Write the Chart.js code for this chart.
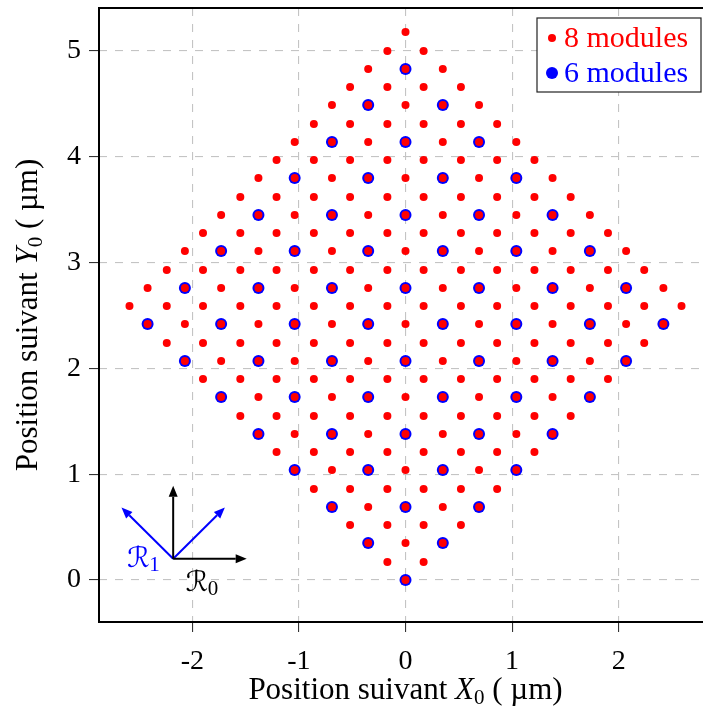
<!DOCTYPE html>
<html>
<head>
<meta charset="utf-8">
<script src="https://cdn.jsdelivr.net/npm/chart.js@4.4.1/dist/chart.umd.min.js"></script>
<style>
  html, body { margin: 0; padding: 0; background: #fff; overflow: hidden; }
  #lattice { display: block; }
</style>
</head>
<body>
<canvas id="lattice" width="718" height="711"></canvas>
<script>
// module positions, one row per Y0 value (µm)
const redRowY = [0.00, 0.17, 0.35, 0.52, 0.69, 0.86, 1.04, 1.21, 1.38, 1.55, 1.73, 1.90, 2.07, 2.24, 2.42,
  2.59, 2.76, 2.93, 3.11, 3.28, 3.45, 3.62, 3.80, 3.97, 4.14, 4.31, 4.49, 4.66, 4.83, 5.00, 5.18];
const redRowX = [
  [0],
  [-0.17, 0.17],
  [-0.35, 0, 0.35],
  [-0.52, -0.17, 0.17, 0.52],
  [-0.69, -0.35, 0, 0.35, 0.69],
  [-0.86, -0.52, -0.17, 0.17, 0.52, 0.86],
  [-1.04, -0.69, -0.35, 0, 0.35, 0.69, 1.04],
  [-1.21, -0.86, -0.52, -0.17, 0.17, 0.52, 0.86, 1.21],
  [-1.38, -1.04, -0.69, -0.35, 0, 0.35, 0.69, 1.04, 1.38],
  [-1.55, -1.21, -0.86, -0.52, -0.17, 0.17, 0.52, 0.86, 1.21, 1.55],
  [-1.73, -1.38, -1.04, -0.69, -0.35, 0, 0.35, 0.69, 1.04, 1.38, 1.73],
  [-1.90, -1.55, -1.21, -0.86, -0.52, -0.17, 0.17, 0.52, 0.86, 1.21, 1.55, 1.90],
  [-2.07, -1.73, -1.38, -1.04, -0.69, -0.35, 0, 0.35, 0.69, 1.04, 1.38, 1.73, 2.07],
  [-2.24, -1.90, -1.55, -1.21, -0.86, -0.52, -0.17, 0.17, 0.52, 0.86, 1.21, 1.55, 1.90, 2.24],
  [-2.42, -2.07, -1.73, -1.38, -1.04, -0.69, -0.35, 0, 0.35, 0.69, 1.04, 1.38, 1.73, 2.07, 2.42],
  [-2.59, -2.24, -1.90, -1.55, -1.21, -0.86, -0.52, -0.17, 0.17, 0.52, 0.86, 1.21, 1.55, 1.90, 2.24, 2.59],
  [-2.42, -2.07, -1.73, -1.38, -1.04, -0.69, -0.35, 0, 0.35, 0.69, 1.04, 1.38, 1.73, 2.07, 2.42],
  [-2.24, -1.90, -1.55, -1.21, -0.86, -0.52, -0.17, 0.17, 0.52, 0.86, 1.21, 1.55, 1.90, 2.24],
  [-2.07, -1.73, -1.38, -1.04, -0.69, -0.35, 0, 0.35, 0.69, 1.04, 1.38, 1.73, 2.07],
  [-1.90, -1.55, -1.21, -0.86, -0.52, -0.17, 0.17, 0.52, 0.86, 1.21, 1.55, 1.90],
  [-1.73, -1.38, -1.04, -0.69, -0.35, 0, 0.35, 0.69, 1.04, 1.38, 1.73],
  [-1.55, -1.21, -0.86, -0.52, -0.17, 0.17, 0.52, 0.86, 1.21, 1.55],
  [-1.38, -1.04, -0.69, -0.35, 0, 0.35, 0.69, 1.04, 1.38],
  [-1.21, -0.86, -0.52, -0.17, 0.17, 0.52, 0.86, 1.21],
  [-1.04, -0.69, -0.35, 0, 0.35, 0.69, 1.04],
  [-0.86, -0.52, -0.17, 0.17, 0.52, 0.86],
  [-0.69, -0.35, 0, 0.35, 0.69],
  [-0.52, -0.17, 0.17, 0.52],
  [-0.35, 0, 0.35],
  [-0.17, 0.17],
  [0]
];
const blueRowY = [0.00, 0.35, 0.69, 1.04, 1.38, 1.73, 2.07, 2.42, 2.76, 3.11, 3.45, 3.80, 4.14, 4.49, 4.83];
const blueRowX = [
  [0],
  [-0.35, 0.35],
  [-0.69, 0, 0.69],
  [-1.04, -0.35, 0.35, 1.04],
  [-1.38, -0.69, 0, 0.69, 1.38],
  [-1.73, -1.04, -0.35, 0.35, 1.04, 1.73],
  [-2.07, -1.38, -0.69, 0, 0.69, 1.38, 2.07],
  [-2.42, -1.73, -1.04, -0.35, 0.35, 1.04, 1.73, 2.42],
  [-2.07, -1.38, -0.69, 0, 0.69, 1.38, 2.07],
  [-1.73, -1.04, -0.35, 0.35, 1.04, 1.73],
  [-1.38, -0.69, 0, 0.69, 1.38],
  [-1.04, -0.35, 0.35, 1.04],
  [-0.69, 0, 0.69],
  [-0.35, 0.35],
  [0]
];
const seriesNames = ['8 modules', '6 modules'];
const xTicks = [-2, -1, 0, 1, 2];
const yTicks = [0, 1, 2, 3, 4, 5];

// frames R0 / R1 drawn in the lower left corner (data units)
const frameOrigin = { x: -2.18, y: 0.20 };
const r0Tips = [{ x: -1.49, y: 0.20 }, { x: -2.18, y: 0.89 }];
const r1Tips = [{ x: -2.665, y: 0.685 }, { x: -1.695, y: 0.685 }];

const serif = "'Liberation Serif', 'Times New Roman', serif";
const RED = '#ff0000';
const BLUE = '#0000ff';

function rowsToPoints(ys, xs) {
  const pts = [];
  ys.forEach((y, i) => xs[i].forEach(x => pts.push({ x: x, y: y })));
  return pts;
}

function drawRuns(ctx, runs, cx, baseY) {
  let total = 0;
  runs.forEach(r => { ctx.font = r.font; r.w = ctx.measureText(r.text).width; total += r.w; });
  let x = cx - total / 2;
  runs.forEach(r => {
    ctx.font = r.font;
    ctx.fillStyle = r.color || '#000';
    ctx.fillText(r.text, x, baseY + (r.dy || 0));
    x += r.w;
  });
}

function arrow(ctx, x0, y0, x1, y1, color) {
  const ang = Math.atan2(y1 - y0, x1 - x0);
  const head = 11, half = 4.5;
  const bx = x1 - head * Math.cos(ang), by = y1 - head * Math.sin(ang);
  ctx.strokeStyle = color;
  ctx.fillStyle = color;
  ctx.lineWidth = 2;
  ctx.beginPath();
  ctx.moveTo(x0, y0);
  ctx.lineTo(bx, by);
  ctx.stroke();
  ctx.beginPath();
  ctx.moveTo(x1, y1);
  ctx.lineTo(bx - half * Math.sin(ang), by + half * Math.cos(ang));
  ctx.lineTo(bx + half * Math.sin(ang), by - half * Math.cos(ang));
  ctx.closePath();
  ctx.fill();
}

const overlay = {
  id: 'overlay',
  afterDraw(chart) {
    const { ctx, chartArea: a } = chart;
    const sx = chart.scales.x, sy = chart.scales.y;
    ctx.save();
    ctx.textAlign = 'left';
    ctx.textBaseline = 'alphabetic';

    // plot frame
    ctx.strokeStyle = '#000';
    ctx.lineWidth = 2;
    ctx.strokeRect(a.left, a.top, a.right - a.left, a.bottom - a.top);

    // axis titles
    const big = '31px ' + serif, ital = 'italic 31px ' + serif, sub = '21px ' + serif;
    drawRuns(ctx, [
      { text: 'Position suivant ', font: big },
      { text: 'X', font: ital },
      { text: '0', font: sub, dy: 5 },
      { text: ' ( µm)', font: big }
    ], (a.left + a.right) / 2, 699);
    ctx.save();
    ctx.translate(37, (a.top + a.bottom) / 2);
    ctx.rotate(-Math.PI / 2);
    drawRuns(ctx, [
      { text: 'Position suivant ', font: big },
      { text: 'Y', font: ital },
      { text: '0', font: sub, dy: 5 },
      { text: ' ( µm)', font: big }
    ], 0, 0);
    ctx.restore();

    // reference frames
    const ox = sx.getPixelForValue(frameOrigin.x), oy = sy.getPixelForValue(frameOrigin.y);
    r1Tips.forEach(t => arrow(ctx, ox, oy, sx.getPixelForValue(t.x), sy.getPixelForValue(t.y), BLUE));
    r0Tips.forEach(t => arrow(ctx, ox, oy, sx.getPixelForValue(t.x), sy.getPixelForValue(t.y), '#000'));
    const script = "28px 'DejaVu Serif', 'DejaVu Sans', serif";
    drawRuns(ctx, [
      { text: 'ℛ', font: script, color: BLUE },
      { text: '1', font: sub, color: BLUE, dy: 4 }
    ], sx.getPixelForValue(-2.46), sy.getPixelForValue(0.12));
    drawRuns(ctx, [
      { text: 'ℛ', font: script },
      { text: '0', font: sub, dy: 4 }
    ], sx.getPixelForValue(-1.91), sy.getPixelForValue(-0.10));

    // legend box
    const lw = 164, lh = 74;
    const lx = a.right - 11 - lw, ly = a.top + 10;
    ctx.fillStyle = '#fff';
    ctx.fillRect(lx, ly, lw, lh);
    ctx.strokeStyle = '#222';
    ctx.lineWidth = 1.2;
    ctx.strokeRect(lx, ly, lw, lh);
    const items = [
      { name: seriesNames[0], color: RED, r: 4, y: ly + 20 },
      { name: seriesNames[1], color: BLUE, r: 6, y: ly + 55 }
    ];
    items.forEach(it => {
      ctx.fillStyle = it.color;
      ctx.beginPath();
      ctx.arc(lx + 15, it.y, it.r, 0, Math.PI * 2);
      ctx.fill();
      ctx.font = '30px ' + serif;
      ctx.textBaseline = 'middle';
      ctx.fillText(it.name, lx + 27, it.y + 1);
    });
    ctx.restore();
  }
};

new Chart(document.getElementById('lattice'), {
  type: 'scatter',
  data: {
    datasets: [
      {
        label: seriesNames[0],
        data: rowsToPoints(redRowY, redRowX),
        backgroundColor: RED,
        borderWidth: 0,
        pointRadius: 4,
        order: 1
      },
      {
        label: seriesNames[1],
        data: rowsToPoints(blueRowY, blueRowX),
        backgroundColor: BLUE,
        borderWidth: 0,
        pointRadius: 6,
        order: 2
      }
    ]
  },
  options: {
    responsive: false,
    animation: false,
    devicePixelRatio: 1,
    events: [],
    layout: { padding: { top: 8, right: 3, left: 0, bottom: 0 } },
    plugins: {
      legend: { display: false },
      tooltip: { enabled: false }
    },
    scales: {
      x: {
        type: 'linear',
        min: -2.876,
        max: 2.876,
        afterBuildTicks: s => { s.ticks = xTicks.map(v => ({ value: v })); },
        afterFit: s => { s.height = 89; s.paddingLeft = 0; s.paddingRight = 0; },
        ticks: { color: '#000', font: { family: serif, size: 28 }, padding: 13, callback: v => String(v) },
        grid: { color: '#c4c4c4', lineWidth: 1.1, tickLength: 10, tickColor: '#333', tickWidth: 1.1 },
        border: { display: false, dash: [8, 8] }
      },
      y: {
        type: 'linear',
        min: -0.397,
        max: 5.406,
        afterBuildTicks: s => { s.ticks = yTicks.map(v => ({ value: v })); },
        afterFit: s => { s.width = 99; s.paddingTop = 0; s.paddingBottom = 0; },
        ticks: { color: '#000', font: { family: serif, size: 28 }, padding: 8, callback: v => String(v) },
        grid: { color: '#c4c4c4', lineWidth: 1.1, tickLength: 10, tickColor: '#333', tickWidth: 1.1 },
        border: { display: false, dash: [8, 8] }
      }
    }
  },
  plugins: [overlay]
});
</script>
</body>
</html>
